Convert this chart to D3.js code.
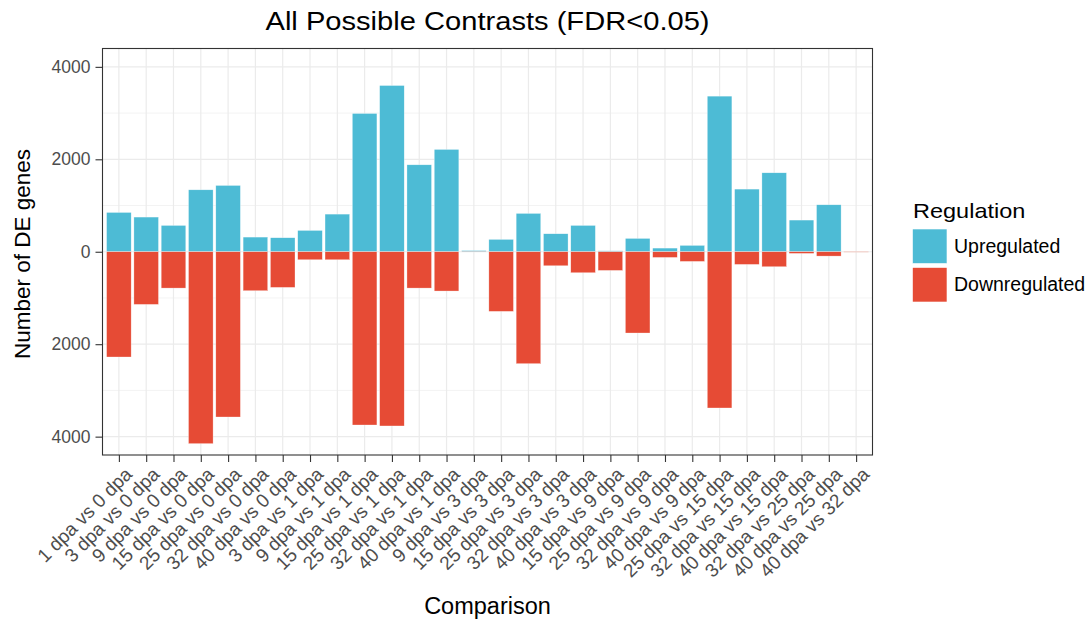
<!DOCTYPE html>
<html><head><meta charset="utf-8">
<script src="https://cdn.jsdelivr.net/npm/d3@7"></script>
<style>body{margin:0;background:#fff;} text{font-family:"Liberation Sans",Arial,sans-serif;}</style>
</head><body><svg id="c" width="1090" height="621"></svg>
<script>
const categories = ["1 dpa vs 0 dpa","3 dpa vs 0 dpa","9 dpa vs 0 dpa","15 dpa vs 0 dpa","25 dpa vs 0 dpa","32 dpa vs 0 dpa","40 dpa vs 0 dpa","3 dpa vs 1 dpa","9 dpa vs 1 dpa","15 dpa vs 1 dpa","25 dpa vs 1 dpa","32 dpa vs 1 dpa","40 dpa vs 1 dpa","9 dpa vs 3 dpa","15 dpa vs 3 dpa","25 dpa vs 3 dpa","32 dpa vs 3 dpa","40 dpa vs 3 dpa","15 dpa vs 9 dpa","25 dpa vs 9 dpa","32 dpa vs 9 dpa","40 dpa vs 9 dpa","25 dpa vs 15 dpa","32 dpa vs 15 dpa","40 dpa vs 15 dpa","32 dpa vs 25 dpa","40 dpa vs 25 dpa","40 dpa vs 32 dpa"];
const upregulated = [850,750,569,1340,1434,317,303,461,814,2991,3596,1881,2213,25,267,829,389,569,20,288,79,137,3366,1355,1708,685,1016,0];
const downregulated = [2277,1139,786,4151,3575,843,771,173,173,3748,3769,786,850,4,1290,2421,303,454,404,1758,123,209,3380,274,324,36,94,8];
const yTicks = [-4000,-2000,0,2000,4000];
const yMinor = [-3000,-1000,1000,3000];
const seriesNames = ["Upregulated","Downregulated"];
const seriesColors = ["#4DBBD5","#E64B35"];

const svg = d3.select("#c");
const L=102.5, R=872.5, T=48.5, B=455;
const x = d3.scalePoint().domain(categories).range([L,R]).padding(0.6);
const y = d3.scaleLinear().domain([-4397,4397]).range([B,T]);
const bw = x.step()*0.9;

svg.append("rect").attr("x",L).attr("y",T).attr("width",R-L).attr("height",B-T).attr("fill","#fff");
const g = svg.append("g");
g.selectAll(".ymin").data(yMinor).enter().append("line")
 .attr("x1",L).attr("x2",R).attr("y1",d=>y(d)).attr("y2",d=>y(d))
 .attr("stroke","#EBEBEB").attr("stroke-width",0.6);
g.selectAll(".ymaj").data(yTicks).enter().append("line")
 .attr("x1",L).attr("x2",R).attr("y1",d=>y(d)).attr("y2",d=>y(d))
 .attr("stroke","#EBEBEB").attr("stroke-width",1.2);
g.selectAll(".xmaj").data(categories).enter().append("line")
 .attr("x1",d=>x(d)).attr("x2",d=>x(d)).attr("y1",T).attr("y2",B)
 .attr("stroke","#EBEBEB").attr("stroke-width",1.2);

const data = categories.map((c,i)=>({c,up:upregulated[i],down:downregulated[i]}));
svg.append("g").selectAll("rect").data(data).enter().append("rect")
 .attr("x",d=>x(d.c)-bw/2).attr("width",bw)
 .attr("y",d=>y(d.up)).attr("height",d=>y(0)-y(d.up))
 .attr("fill",seriesColors[0]).attr("stroke","#ffffff").attr("stroke-width",0.5).attr("stroke-opacity",0.6);
svg.append("g").selectAll("rect").data(data).enter().append("rect")
 .attr("x",d=>x(d.c)-bw/2).attr("width",bw)
 .attr("y",y(0)).attr("height",d=>y(-d.down)-y(0))
 .attr("fill",seriesColors[1]).attr("stroke","#ffffff").attr("stroke-width",0.5).attr("stroke-opacity",0.6);

svg.append("rect").attr("x",L).attr("y",T).attr("width",R-L).attr("height",B-T)
 .attr("fill","none").attr("stroke","#333333").attr("stroke-width",1.1);

// y axis
const ya = svg.append("g").attr("transform",`translate(${L},0)`)
 .call(d3.axisLeft(y).tickValues(yTicks).tickSize(7).tickPadding(5).tickFormat(d=>Math.abs(d)));
ya.select(".domain").remove();
ya.selectAll("line").attr("stroke","#333").attr("stroke-width",1.1);
ya.selectAll("text").attr("fill","#4D4D4D").style("font-size","17.5px").style("font-family","'Liberation Sans',Arial,sans-serif");

// x axis
const xa = svg.append("g").attr("transform",`translate(0,${B})`)
 .call(d3.axisBottom(x).tickSize(7).tickFormat(""));
xa.select(".domain").remove();
xa.selectAll("line").attr("stroke","#333").attr("stroke-width",1.1);
svg.append("g").selectAll("text").data(categories).enter().append("text")
 .attr("transform",d=>`translate(${x(d)+5},${B+11}) rotate(-45)`)
 .attr("text-anchor","end").attr("dy","0.7em")
 .attr("fill","#4D4D4D").style("font-size","19px").text(d=>d);

svg.append("text").attr("transform",`translate(${(L+R)/2},30) scale(1.12,1)`).attr("text-anchor","middle")
 .style("font-size","26px").attr("fill","#000").text("All Possible Contrasts (FDR<0.05)");
svg.append("text").attr("x",(L+R)/2).attr("y",614).attr("text-anchor","middle")
 .style("font-size","23.5px").attr("fill","#000").text("Comparison");
svg.append("text").attr("transform",`translate(30,254) rotate(-90)`).attr("text-anchor","middle")
 .style("font-size","22.5px").attr("fill","#000").text("Number of DE genes");

// legend
const lg = svg.append("g");
lg.append("text").attr("transform","translate(913,218) scale(1.12,1)").style("font-size","21px").attr("fill","#000").text("Regulation");
seriesNames.forEach((s,i)=>{
  lg.append("rect").attr("x",912.5).attr("y",229+i*38.5).attr("width",34.5).attr("height",34.5)
   .attr("fill",seriesColors[i]).attr("stroke","#fff").attr("stroke-width",0.6);
  lg.append("text").attr("x",954).attr("y",253+i*38).style("font-size","19.5px").attr("fill","#000").text(s);
});
</script></body></html>
